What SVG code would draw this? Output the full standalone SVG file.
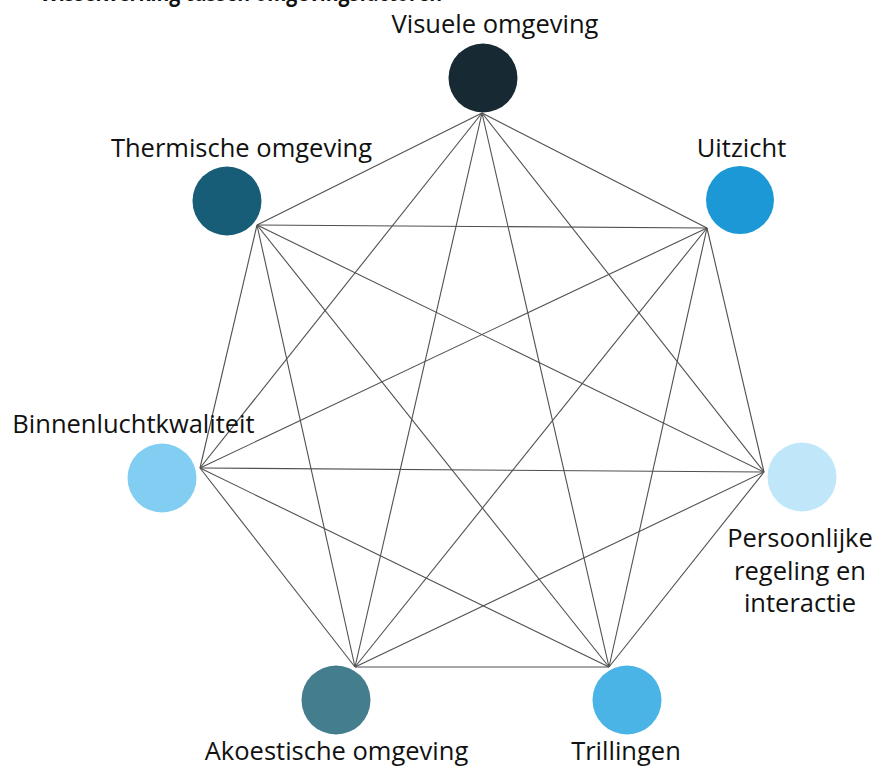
<svg xmlns="http://www.w3.org/2000/svg" width="877" height="767" viewBox="0 0 877 767">
<style>
.lbl{font-family:"Open Sans","Noto Sans",sans-serif;font-size:25.5px;fill:#111111;text-anchor:middle}
.ttl{font-family:"Open Sans","Noto Sans",sans-serif;font-size:24px;font-weight:bold;fill:#111111}
.e{stroke:#505050;stroke-width:1.1;fill:none}
</style>
<rect width="877" height="767" fill="#ffffff"/>
<text class="ttl" x="40" y="1" textLength="402" lengthAdjust="spacingAndGlyphs">Wisselwerking tussen omgevingsfactoren</text>
<g id="connectors">
<line class="e" x1="482" y1="113" x2="257" y2="225"/>
<line class="e" x1="482" y1="113" x2="707" y2="228"/>
<line class="e" x1="482" y1="113" x2="200" y2="468"/>
<line class="e" x1="482" y1="113" x2="764" y2="472"/>
<line class="e" x1="482" y1="113" x2="355" y2="667"/>
<line class="e" x1="482" y1="113" x2="609" y2="667"/>
<line class="e" x1="257" y1="225" x2="707" y2="228"/>
<line class="e" x1="257" y1="225" x2="200" y2="468"/>
<line class="e" x1="257" y1="225" x2="764" y2="472"/>
<line class="e" x1="257" y1="225" x2="355" y2="667"/>
<line class="e" x1="257" y1="225" x2="609" y2="667"/>
<line class="e" x1="707" y1="228" x2="200" y2="468"/>
<line class="e" x1="707" y1="228" x2="764" y2="472"/>
<line class="e" x1="707" y1="228" x2="355" y2="667"/>
<line class="e" x1="707" y1="228" x2="609" y2="667"/>
<line class="e" x1="200" y1="468" x2="764" y2="472"/>
<line class="e" x1="200" y1="468" x2="355" y2="667"/>
<line class="e" x1="200" y1="468" x2="609" y2="667"/>
<line class="e" x1="764" y1="472" x2="355" y2="667"/>
<line class="e" x1="764" y1="472" x2="609" y2="667"/>
<line class="e" x1="355" y1="667" x2="609" y2="667"/>
</g>
<g id="visuele">
<circle cx="483" cy="78" r="34.5" fill="#172a33"/>
<text class="lbl" x="495" y="33">Visuele omgeving</text>
</g>
<g id="thermische">
<circle cx="227" cy="201" r="34.5" fill="#175d78"/>
<text class="lbl" x="241.5" y="157">Thermische omgeving</text>
</g>
<g id="uitzicht">
<circle cx="740" cy="200" r="34" fill="#1d98d6"/>
<text class="lbl" x="741.5" y="157">Uitzicht</text>
</g>
<g id="binnenlucht">
<circle cx="162" cy="478" r="34.5" fill="#82cef3"/>
<text class="lbl" x="133.5" y="433">Binnenluchtkwaliteit</text>
</g>
<g id="persoonlijke">
<circle cx="802" cy="477" r="34.5" fill="#bfe6f9"/>
<text class="lbl" x="800" y="547">Persoonlijke</text>
<text class="lbl" x="800" y="580">regeling en</text>
<text class="lbl" x="800" y="612">interactie</text>
</g>
<g id="akoestische">
<circle cx="336" cy="700" r="34.5" fill="#437d8e"/>
<text class="lbl" x="336.5" y="760">Akoestische omgeving</text>
</g>
<g id="trillingen">
<circle cx="627" cy="700" r="34.5" fill="#4ab4e6"/>
<text class="lbl" x="626" y="760">Trillingen</text>
</g>
</svg>
